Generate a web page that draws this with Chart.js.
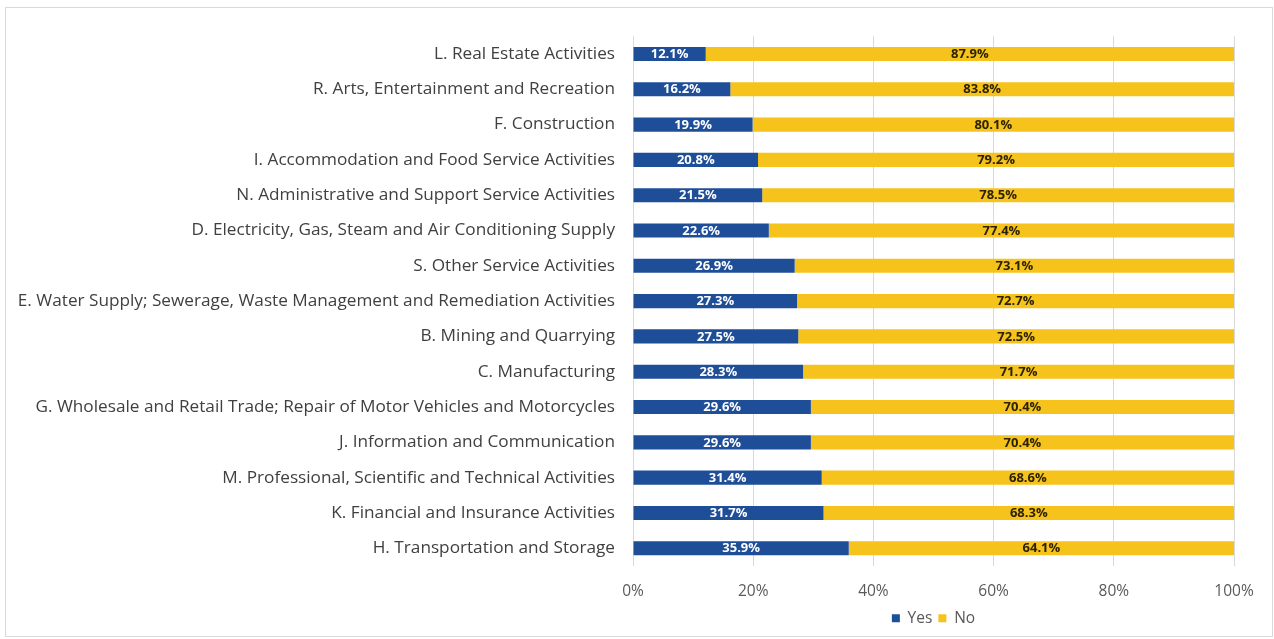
<!DOCTYPE html>
<html>
<head>
<meta charset="utf-8">
<script src="https://cdn.jsdelivr.net/npm/chart.js@4"></script>
<style>
  html, body { margin: 0; padding: 0; background: #ffffff; }
  #frame {
    position: absolute; left: 5px; top: 7px;
    width: 1266px; height: 628px;
    border: 1px solid #d9d9d9;
    background: #ffffff;
  }
  #chart { display: block; }
</style>
</head>
<body>
<div id="frame"><canvas id="chart" width="1266" height="628"></canvas></div>
<script>
const categories = [
  "L. Real Estate Activities",
  "R. Arts, Entertainment and Recreation",
  "F. Construction",
  "I. Accommodation and Food Service Activities",
  "N. Administrative and Support Service Activities",
  "D. Electricity, Gas, Steam and Air Conditioning Supply",
  "S. Other Service Activities",
  "E. Water Supply; Sewerage, Waste Management and Remediation Activities",
  "B. Mining and Quarrying",
  "C. Manufacturing",
  "G. Wholesale and Retail Trade; Repair of Motor Vehicles and Motorcycles",
  "J. Information and Communication",
  "M. Professional, Scientific and Technical Activities",
  "K. Financial and Insurance Activities",
  "H. Transportation and Storage"
];
const yesShare = [12.1, 16.2, 19.9, 20.8, 21.5, 22.6, 26.9, 27.3, 27.5, 28.3, 29.6, 29.6, 31.4, 31.7, 35.9];
const noShare  = [87.9, 83.8, 80.1, 79.2, 78.5, 77.4, 73.1, 72.7, 72.5, 71.7, 70.4, 70.4, 68.6, 68.3, 64.1];
const xTicks = [0, 20, 40, 60, 80, 100];

const FONT = "'Open Sans', 'Noto Sans', sans-serif";

// Writes each segment's value in the middle of its bar piece
const segmentLabels = {
  id: 'segmentLabels',
  afterDatasetsDraw(chart) {
    const ctx = chart.ctx;
    ctx.save();
    ctx.font = "bold 13px " + FONT;
    ctx.textAlign = 'center';
    ctx.textBaseline = 'middle';
    chart.data.datasets.forEach((ds, di) => {
      const meta = chart.getDatasetMeta(di);
      meta.data.forEach((bar, i) => {
        const p = bar.getProps(['x', 'y', 'base'], true);
        const cx = (p.x + p.base) / 2;
        ctx.fillStyle = ds.labelColor;
        ctx.fillText(ds.data[i].toFixed(1) + '%', cx, p.y + 0.5);
      });
    });
    ctx.restore();
  }
};

new Chart(document.getElementById('chart'), {
  type: 'bar',
  data: {
    labels: categories,
    datasets: [
      { label: 'Yes', data: yesShare, backgroundColor: '#1f4e98', labelColor: '#ffffff',
        categoryPercentage: 1, barPercentage: 0.4 },
      { label: 'No', data: noShare, backgroundColor: '#f6c21c', labelColor: '#2b2200',
        categoryPercentage: 1, barPercentage: 0.4 }
    ]
  },
  options: {
    indexAxis: 'y',
    responsive: false,
    animation: false,
    layout: { padding: { top: 27, right: 38, bottom: 0, left: 0 } },
    scales: {
      x: {
        stacked: true,
        min: 0,
        max: 100,
        afterBuildTicks(scale) { scale.ticks = xTicks.map(v => ({ value: v })); },
        afterFit(scale) { scale.height -= 12; },
        grid: { color: '#d9d9d9', drawTicks: false },
        border: { display: false },
        ticks: {
          padding: 16,
          color: '#595959',
          font: { family: FONT, size: 15.5 },
          callback: v => v + '%'
        }
      },
      y: {
        stacked: true,
        afterFit(scale) { scale.width = 627; },
        grid: { display: false, drawTicks: false },
        border: { display: false },
        ticks: {
          padding: 18,
          color: '#404040',
          font: { family: FONT, size: 17.2 },
          autoSkip: false
        }
      }
    },
    plugins: {
      legend: {
        position: 'bottom',
        fullSize: false,
        labels: {
          boxWidth: 8,
          boxHeight: 8,
          padding: 6,
          color: '#595959',
          font: { family: FONT, size: 15.5 }
        }
      },
      tooltip: { enabled: false }
    }
  },
  plugins: [segmentLabels]
});
</script>
</body>
</html>
